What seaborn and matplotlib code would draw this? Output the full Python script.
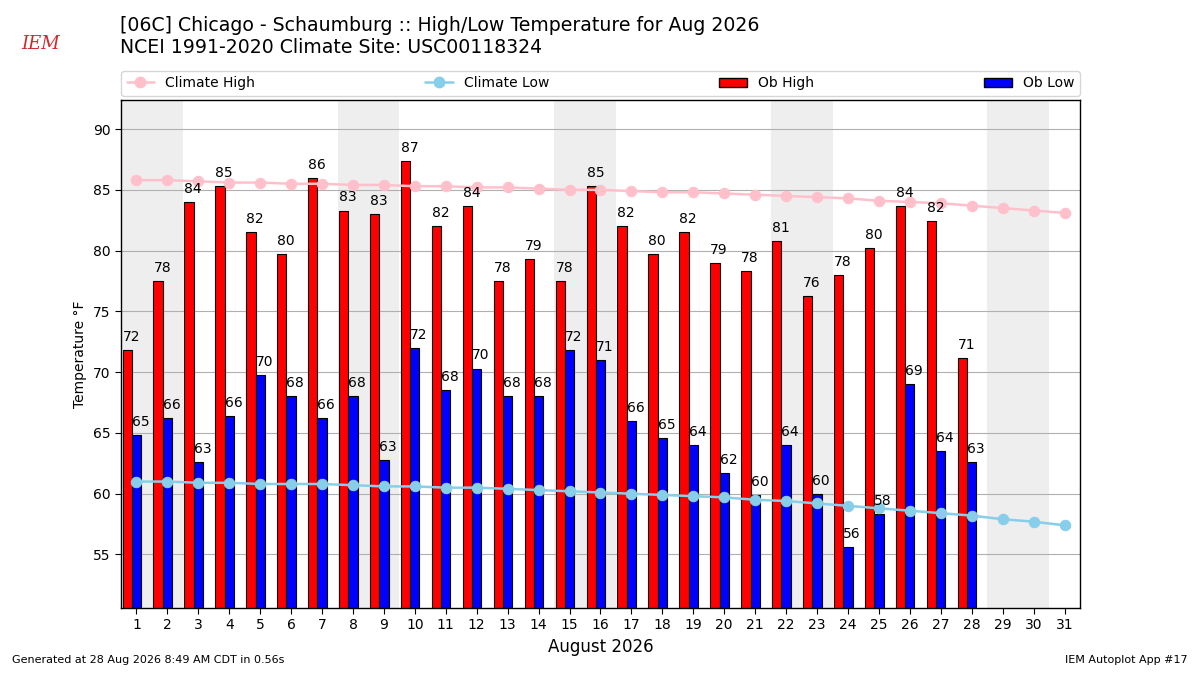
import numpy as np
import pandas as pd
import matplotlib
matplotlib.use("Agg")
import matplotlib.pyplot as plt
import seaborn as sns
from matplotlib.lines import Line2D
from matplotlib.patches import Patch

# ---- data ----
days = list(range(1, 32))
clim_high = [85.8, 85.8, 85.7, 85.6, 85.6, 85.5, 85.5, 85.4, 85.4, 85.3, 85.3, 85.2,
             85.2, 85.1, 85.0, 85.0, 84.9, 84.8, 84.8, 84.7, 84.6, 84.5, 84.4, 84.3,
             84.1, 84.0, 83.9, 83.7, 83.5, 83.3, 83.1]
clim_low = [61.0, 61.0, 60.9, 60.9, 60.8, 60.8, 60.8, 60.7, 60.6, 60.6, 60.5, 60.5,
            60.4, 60.3, 60.2, 60.1, 60.0, 59.9, 59.8, 59.7, 59.5, 59.4, 59.2, 59.0,
            58.8, 58.6, 58.4, 58.2, 57.9, 57.7, 57.4]
ob_days = list(range(1, 29))
ob_high = [71.8, 77.5, 84.0, 85.3, 81.5, 79.7, 86.0, 83.3, 83.0, 87.4, 82.0, 83.7,
           77.5, 79.3, 77.5, 85.3, 82.0, 79.7, 81.5, 79.0, 78.3, 80.8, 76.3, 78.0,
           80.2, 83.7, 82.4, 71.2]
ob_low = [64.8, 66.2, 62.6, 66.4, 69.8, 68.0, 66.2, 68.0, 62.8, 72.0, 68.5, 70.3,
          68.0, 68.0, 71.8, 71.0, 66.0, 64.6, 64.0, 61.7, 59.9, 64.0, 60.0, 55.6,
          58.3, 69.0, 63.5, 62.6]
weekend_starts = [1, 8, 15, 22, 29]

clim = pd.DataFrame({"day": days, "high": clim_high, "low": clim_low})
obs = pd.DataFrame({"day": ob_days, "high": ob_high, "low": ob_low})
obs["hx"] = obs["day"] - 0.3

sns.set_style("white")
plt.rcParams["font.family"] = ["DejaVu Sans"]
for k in ["text.color", "axes.labelcolor", "xtick.color", "ytick.color",
          "axes.edgecolor"]:
    plt.rcParams[k] = "black"

fig = plt.figure(figsize=(12, 6.75), dpi=100)
ax = fig.add_axes([0.1008, 0.0993, 0.7992, 0.7527])

for w in weekend_starts:
    ax.axvspan(w - 0.5, w + 1.5, color="#eeeeee", zorder=0, lw=0)

ax.yaxis.grid(True, color="#b0b0b0", lw=0.8, zorder=1)
ax.set_axisbelow(True)

sns.barplot(data=obs, x="hx", y="high", native_scale=True, width=0.3,
            color="red", edgecolor="k", linewidth=0.8, saturation=1,
            errorbar=None, ax=ax, zorder=2)
sns.barplot(data=obs, x="day", y="low", native_scale=True, width=0.3,
            color="blue", edgecolor="k", linewidth=0.8, saturation=1,
            errorbar=None, ax=ax, zorder=2)

sns.lineplot(data=clim, x="day", y="high", color="pink", marker="o",
             markersize=7.5, markeredgecolor="pink", lw=1.8, ax=ax, zorder=3)
sns.lineplot(data=clim, x="day", y="low", color="skyblue", marker="o",
             markersize=7.5, markeredgecolor="skyblue", lw=1.8, ax=ax, zorder=3)

for d, h, l in zip(ob_days, ob_high, ob_low):
    ax.text(d - 0.45, h + 0.5, f"{h:.0f}", ha="left", va="bottom", fontsize=10, zorder=4)
    ax.text(d - 0.15, l + 0.5, f"{l:.0f}", ha="left", va="bottom", fontsize=10, zorder=4)

ymin = min(ob_low) - 5
ymax = max(ob_high) + 5
ax.set_ylim(ymin, ymax)
ax.set_xlim(0.5, 31.5)
ax.set_xticks(days)
ax.set_xticklabels([str(d) for d in days])
ax.set_yticks(range(55, 91, 5))
ax.tick_params(axis="both", labelsize=10, length=4, direction="out",
               bottom=True, left=True, colors="black")
ax.set_xlabel("August 2026", fontsize=12, color="black")
ax.set_ylabel("Temperature \u00b0F", fontsize=10, color="black")
for s in ax.spines.values():
    s.set_visible(True)
    s.set_color("black")
    s.set_linewidth(1.0)

handles = [
    Line2D([0], [0], color="pink", marker="o", markersize=7.5, lw=1.8),
    Line2D([0], [0], color="skyblue", marker="o", markersize=7.5, lw=1.8),
    Patch(facecolor="red", edgecolor="k"),
    Patch(facecolor="blue", edgecolor="k"),
]
ax.legend(handles, ["Climate High", "Climate Low", "Ob High", "Ob Low"],
          loc="lower left", bbox_to_anchor=(0, 1.008, 1, 0.05), mode="expand",
          ncol=4, fontsize=10, frameon=True, borderaxespad=0)

fig.text(0.1, 0.976, "[06C] Chicago - Schaumburg :: High/Low Temperature for Aug 2026\n"
         "NCEI 1991-2020 Climate Site: USC00118324", ha="left", va="top", fontsize=13.6,
         linespacing=1.2, color="black")
fig.text(0.018, 0.935, "IEM", color="#d62728", fontsize=13, family="serif",
         style="italic", ha="left", va="center")
fig.text(0.01, 0.015, "Generated at 28 Aug 2026 8:49 AM CDT in 0.56s", fontsize=8,
         ha="left", va="bottom", color="black")
fig.text(0.99, 0.015, "IEM Autoplot App #17", fontsize=8, ha="right", va="bottom",
         color="black")

fig.savefig("out.png", dpi=100)
